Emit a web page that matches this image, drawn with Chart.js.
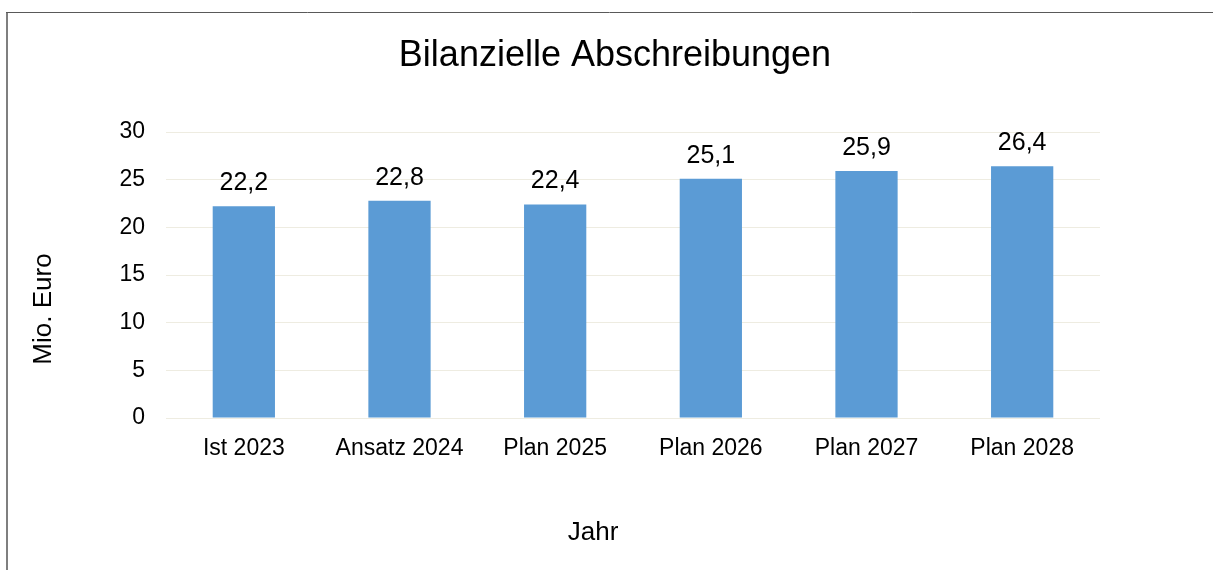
<!DOCTYPE html>
<html>
<head>
<meta charset="utf-8">
<script src="https://cdn.jsdelivr.net/npm/chart.js@4"></script>
<style>
	body { margin: 0; background: #ffffff; }
	canvas { display: block; }
</style>
</head>
<body>
<canvas id="chart" width="1213" height="570"></canvas>
<script>
const categories = ['Ist 2023', 'Ansatz 2024', 'Plan 2025', 'Plan 2026', 'Plan 2027', 'Plan 2028'];
const values = [22.2, 22.8, 22.4, 25.1, 25.9, 26.4];
const yTicks = [0, 5, 10, 15, 20, 25, 30];

const chartTitle = 'Bilanzielle Abschreibungen';
const xTitle = 'Jahr';
const yTitle = 'Mio. Euro';

const FONT = "'Liberation Sans', Arial, sans-serif";

// border + title + axis titles, placed like the office chart
const framePlugin = {
	id: 'frame',
	beforeDraw(chart) {
		const ctx = chart.ctx;
		ctx.save();
		ctx.strokeStyle = '#7f7f7f';
		ctx.lineWidth = 2;
		ctx.beginPath();
		ctx.moveTo(7, 12);
		ctx.lineTo(7, chart.height);
		ctx.stroke();
		ctx.strokeStyle = '#595959';
		ctx.lineWidth = 1;
		ctx.beginPath();
		ctx.moveTo(6, 12.5);
		ctx.lineTo(chart.width, 12.5);
		ctx.stroke();

		ctx.fillStyle = '#000000';
		ctx.textAlign = 'center';
		ctx.textBaseline = 'alphabetic';
		ctx.font = '36px ' + FONT;
		ctx.fillText(chartTitle, 615, 66);

		ctx.font = '26px ' + FONT;
		ctx.fillText(xTitle, 593, 540);

		ctx.translate(51, 309);
		ctx.rotate(-Math.PI / 2);
		ctx.fillText(yTitle, 0, 0);
		ctx.restore();
	}
};

// value labels above bars, German decimal comma
const valueLabels = {
	id: 'valueLabels',
	afterDatasetsDraw(chart) {
		const ctx = chart.ctx;
		const meta = chart.getDatasetMeta(0);
		ctx.save();
		ctx.font = '25px ' + FONT;
		ctx.fillStyle = '#000000';
		ctx.textAlign = 'center';
		ctx.textBaseline = 'alphabetic';
		meta.data.forEach((bar, i) => {
			const txt = values[i].toFixed(1).replace('.', ',');
			ctx.fillText(txt, bar.x, bar.y - 16);
		});
		ctx.restore();
	}
};

new Chart(document.getElementById('chart'), {
	type: 'bar',
	data: {
		labels: categories,
		datasets: [
			{
				data: values,
				backgroundColor: '#5B9BD5',
				borderWidth: 0,
				barPercentage: 0.4,
				categoryPercentage: 1,
			},
		],
	},
	options: {
		responsive: false,
		devicePixelRatio: 1,
		animation: false,
		layout: {
			padding: { left: 0, right: 113, top: 132, bottom: 0 },
		},
		plugins: {
			legend: { display: false },
			tooltip: { enabled: false },
			title: { display: false },
		},
		scales: {
			x: {
				grid: { display: false, drawTicks: false },
				border: { display: false },
				ticks: {
					color: '#000000',
					font: { family: FONT, size: 23 },
					padding: 17,
					maxRotation: 0,
				},
				afterFit(scale) {
					scale.height = 152;
				},
			},
			y: {
				min: 0,
				max: 30,
				grid: { color: '#EEECE1', lineWidth: 1, drawTicks: false },
				border: { display: false },
				afterBuildTicks(scale) {
					scale.ticks = yTicks.map((v) => ({ value: v }));
				},
				ticks: {
					color: '#000000',
					font: { family: FONT, size: 23 },
					padding: 21,
				},
				afterFit(scale) {
					scale.width = 166;
				},
			},
		},
	},
	plugins: [framePlugin, valueLabels],
});
</script>
</body>
</html>
